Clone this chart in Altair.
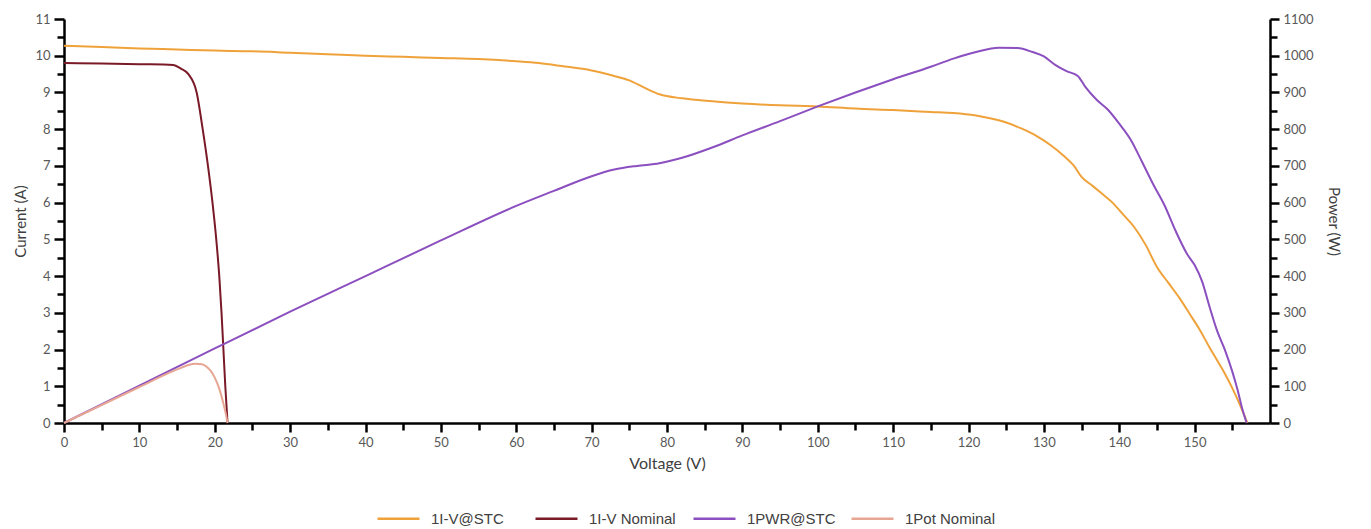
import altair as alt
import pandas as pd

# ---- data ----
stc_v = [0, 5, 10, 15, 20, 25, 30, 35, 40, 45, 50, 55, 60, 63, 66, 70, 73, 75, 77, 79, 82, 86, 90, 95,
         100, 105, 110, 115, 118, 121, 123, 125, 127, 129, 131, 132.5, 134, 135, 136.5, 137.5, 139,
         140.5, 142, 143.5, 145, 146.5, 148, 149.5, 150.5, 152, 153, 154, 155, 156, 157]
stc_i = [10.27, 10.24, 10.2, 10.17, 10.14, 10.12, 10.08, 10.04, 10.0, 9.97, 9.94, 9.91, 9.85, 9.8, 9.72,
         9.6, 9.45, 9.33, 9.13, 8.95, 8.84, 8.76, 8.7, 8.65, 8.62, 8.56, 8.52, 8.47, 8.44, 8.37, 8.29,
         8.18, 8.02, 7.82, 7.55, 7.3, 7.0, 6.7, 6.45, 6.28, 6.02, 5.68, 5.33, 4.85, 4.25, 3.82, 3.4,
         2.92, 2.6, 2.05, 1.7, 1.35, 0.95, 0.5, 0.0]

nom_v = [0, 5, 10, 14.5, 15.5, 16.5, 17.6, 18.4, 19.1, 19.7, 20.2, 20.6, 20.9, 21.15, 21.4, 21.7]
nom_i = [9.8, 9.79, 9.77, 9.75, 9.65, 9.5, 9.0, 8.0, 7.0, 6.0, 5.0, 4.0, 3.0, 2.0, 1.0, 0.0]

pwr_v = [0, 10, 20, 30, 40, 50, 60, 65, 70, 73, 76, 79, 82, 86, 90, 95, 100, 105, 110, 115, 118, 121,
         124, 126.5, 128.5, 130, 131.5, 133, 134.5, 135.5, 137, 138.5, 140, 141.5, 143, 144.5, 146,
         147.5, 149, 150, 151, 152, 153, 154, 155, 155.7, 156.3, 156.9]
pwr_p = [0, 102, 203, 303, 400, 497, 591, 632, 672, 690, 700, 707, 722, 750, 783, 822, 862, 900, 936,
         970, 992, 1010, 1022, 1021, 1010, 998, 975, 958, 945, 915, 880, 853, 815, 772, 712, 650, 593,
         522, 460, 430, 385, 315, 250, 200, 140, 90, 40, 0]

pot_v = [0, 5, 10, 14, 15.5, 16.5, 17.5, 18.3, 19, 19.7, 20.3, 20.8, 21.2, 21.5, 21.7]
pot_p = [0, 49, 98, 137, 150, 158, 161, 160, 152, 135, 110, 80, 48, 22, 0]

series_names = ["1I-V@STC", "1I-V Nominal", "1PWR@STC", "1Pot Nominal"]
series_colors = ["#EFA23A", "#7A1A28", "#8B4FBF", "#E7A694"]

x_ticks = list(range(0, 160, 5))
y_left_ticks = [i / 2 for i in range(0, 23)]
y_right_ticks = list(range(0, 1101, 50))


def frame(v, y, name):
    return pd.DataFrame({"V": v, "Y": y, "S": name, "o": list(range(len(v)))})


cur_df = pd.concat([frame(stc_v, stc_i, series_names[0]), frame(nom_v, nom_i, series_names[1])])
pow_df = pd.concat([frame(pwr_v, pwr_p, series_names[2]), frame(pot_v, pot_p, series_names[3])])

color = alt.Color(
    "S:N",
    scale=alt.Scale(domain=series_names, range=series_colors),
    legend=alt.Legend(
        orient="none", legendX=312, legendY=477, direction="horizontal", title=None,
        columns=4, gridAlign="all",
        symbolType="stroke", symbolSize=1764, symbolStrokeWidth=2.5, padding=0,
        labelFont="Liberation Sans", labelFontSize=15, labelColor="#404040",
        columnPadding=8, labelOffset=10, labelLimit=300,
    ),
)

xscale = alt.Scale(domain=[0, 160], nice=False, zero=False)
xaxis = alt.Axis(
    values=x_ticks, title="Voltage (V)", format="d",
    labelExpr="datum.value % 10 === 0 ? datum.label : ''",
    tickSize={"condition": {"test": "datum.value % 10 === 0", "value": 9}, "value": 7},
    labelOverlap=False, labelFlush=False, titleFontSize=16, titlePadding=6)

current = alt.Chart(cur_df).mark_line(strokeWidth=2, interpolate="monotone").encode(
    x=alt.X("V:Q", scale=xscale, axis=xaxis),
    y=alt.Y("Y:Q", scale=alt.Scale(domain=[0, 11], nice=False), axis=alt.Axis(
        values=y_left_ticks, title="Current (A)", orient="left", format="~g",
        labelExpr="datum.value % 1 === 0 ? datum.label : ''",
        tickSize={"condition": {"test": "datum.value % 1 === 0", "value": 10}, "value": 7},
        labelOverlap=False, labelFlush=False, titlePadding=6)),
    color=color,
    order="o:Q",
)

power = alt.Chart(pow_df).mark_line(strokeWidth=2, interpolate="monotone").encode(
    x=alt.X("V:Q", scale=xscale, axis=xaxis),
    y=alt.Y("Y:Q", scale=alt.Scale(domain=[0, 1100], nice=False), axis=alt.Axis(
        values=y_right_ticks, title="Power (W)", orient="right", format="d",
        labelExpr="datum.value % 100 === 0 ? datum.label : ''",
        tickSize={"condition": {"test": "datum.value % 100 === 0", "value": 9}, "value": 7},
        labelOverlap=False, labelFlush=False, titlePadding=12)),
    color=color,
    order="o:Q",
)

chart = alt.layer(current, power).resolve_scale(y="independent").properties(
    width=1206, height=404
).configure_view(stroke=None).configure_axis(
    domainColor="black", domainWidth=2.5, tickColor="black", tickWidth=2.5,
    labelFont="Lato", labelFontSize=13, labelColor="#595959", labelPadding=4,
    titleFont="Lato", titleFontSize=15, titleFontWeight="normal", titleColor="#404040",
    grid=False,
)

chart.save("out.html", embed_options={"renderer": "svg", "actions": False})
